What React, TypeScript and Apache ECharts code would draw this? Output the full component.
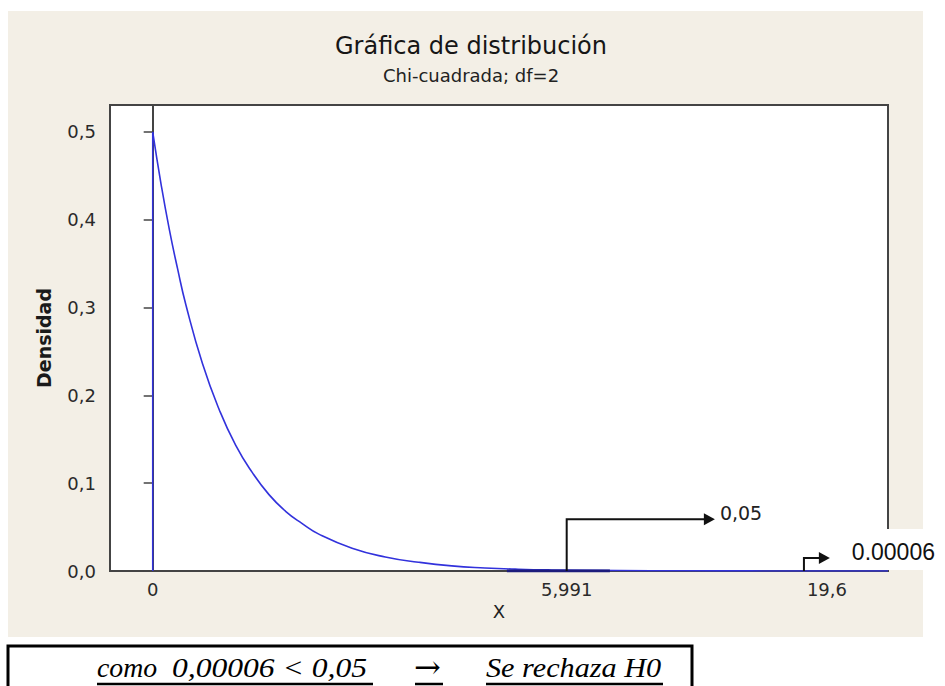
import React, { useEffect, useRef } from "react";
import * as echarts from "echarts";

// ---- texts ----
const titleText = "Gráfica de distribución";
const subtitleText = "Chi-cuadrada; df=2";
const xName = "X";
const yName = "Densidad";

// ---- axes ----
const xRange = [-1.285, 22.13];
const yRange = [0, 0.5307];
const xTickValues = [0, 12.46, 19.6];
const xTickLabels = ["0", "5,991", "19,6"];
const yTickValues = [0, 0.1, 0.2, 0.3, 0.4, 0.5];
const yTickLabels = ["0,0", "0,1", "0,2", "0,3", "0,4", "0,5"];

// ---- density curve ----
const curveX = [0, 0.25, 0.5, 0.75, 1, 1.5, 2, 2.5, 3, 3.5, 4, 4.5, 5, 6, 7, 8, 9, 10, 11, 12, 14, 16, 18, 20, 22.13];
const curveY = [0.5, 0.441, 0.389, 0.344, 0.303, 0.236, 0.184, 0.143, 0.112, 0.087, 0.068, 0.054, 0.042, 0.026, 0.016, 0.01, 0.0058, 0.0035, 0.002, 0.0012, 0.0005, 0.0002, 0.0001, 0.00002, 0];
const zeroLineX = [0, 0];
const zeroLineY = [0, 0.5];
const tailX = [10.66, 13.76];
const tailY = [0, 0];

// ---- annotations ----
const alphaArrowX = [12.46, 12.46, 16.92];
const alphaArrowY = [0, 0.059, 0.059];
const alphaLabel = "0,05";
const pArrowX = [19.6, 19.6, 20.38];
const pArrowY = [0, 0.0148, 0.0148];
const pLabel = "0.00006";
const conclusionParts = ["como", "0,00006 < 0,05", "→", "Se rechaza H0"];

const FONT = "DejaVu Sans";
const BLUE = "#3232dc";

function zip(xs: number[], ys: number[]) {
  return xs.map((x, i) => [x, ys[i]]);
}

function findIdx(values: number[], v: number) {
  for (let i = 0; i < values.length; i++) {
    if (Math.abs(values[i] - v) < 1e-6) return i;
  }
  return -1;
}

export default function App() {
  const ref = useRef<HTMLDivElement>(null);

  useEffect(() => {
    const el = ref.current!;
    const chart = echarts.init(el, null, { renderer: "svg" });

    chart.setOption({
      animation: false,
      backgroundColor: "#ffffff",
      title: [
        {
          text: titleText,
          left: 466,
          top: 29,
          textAlign: "center",
          textStyle: { fontFamily: FONT, fontSize: 24, fontWeight: "normal", color: "#161616" },
        },
        {
          text: subtitleText,
          left: 466,
          top: 61,
          textAlign: "center",
          textStyle: { fontFamily: FONT, fontSize: 18, fontWeight: "normal", color: "#222222" },
        },
      ],
      grid: {
        left: 110,
        top: 105,
        width: 778,
        height: 466,
        show: true,
        backgroundColor: "#ffffff",
        borderColor: "#444444",
        borderWidth: 2,
      },
      xAxis: {
        type: "value",
        min: xRange[0],
        max: xRange[1],
        name: xName,
        nameLocation: "middle",
        nameGap: 31,
        nameTextStyle: { fontFamily: FONT, fontSize: 18, color: "#222" },
        axisLine: { show: true, lineStyle: { color: "#444444", width: 2 } },
        axisTick: { show: false },
        splitLine: { show: false },
        axisLabel: {
          customValues: xTickValues,
          margin: 9,
          fontFamily: FONT,
          fontSize: 18,
          color: "#2a2a2a",
          formatter: (v: number) => {
            const i = findIdx(xTickValues, v);
            if (i < 0) return "";
            if (i === xTickValues.length - 1) return "{shift|" + xTickLabels[i] + "}";
            return xTickLabels[i];
          },
          rich: {
            shift: { padding: [0, 0, 0, 46], fontFamily: FONT, fontSize: 18, color: "#2a2a2a" },
          },
        },
      },
      yAxis: {
        type: "value",
        min: yRange[0],
        max: yRange[1],
        name: yName,
        nameLocation: "middle",
        nameGap: 57,
        nameRotate: 90,
        nameTextStyle: { fontFamily: FONT, fontSize: 19, fontWeight: "bold", color: "#1a1a1a" },
        axisLine: { show: true, lineStyle: { color: "#444444", width: 2 } },
        axisTick: { show: true, length: 9, customValues: yTickValues, lineStyle: { color: "#444444", width: 1.5 } },
        splitLine: { show: false },
        axisLabel: {
          customValues: yTickValues,
          margin: 14,
          fontFamily: FONT,
          fontSize: 18,
          color: "#2a2a2a",
          formatter: (v: number) => {
            const i = findIdx(yTickValues, v);
            return i < 0 ? "" : yTickLabels[i];
          },
        },
      },
      series: [
        {
          type: "line",
          name: "density",
          data: zip(curveX, curveY),
          showSymbol: false,
          symbol: "none",
          smooth: 0.5,
          lineStyle: { color: BLUE, width: 1.6 },
        },
        {
          type: "line",
          name: "zero",
          data: zip(zeroLineX, zeroLineY),
          symbol: "none",
          lineStyle: { color: BLUE, width: 1.5 },
        },
        {
          type: "line",
          name: "tail",
          data: zip(tailX, tailY),
          symbol: "none",
          lineStyle: { color: "#1c1c7c", width: 3 },
        },
      ],
    });

    const px = (x: number, y: number) => chart.convertToPixel({ gridIndex: 0 } as any, [x, y]) as number[];
    const HEAD = 11;
    const HALF = 6;

    const arrowGraphics = (xs: number[], ys: number[]) => {
      const pts = xs.map((x, i) => px(x, ys[i]));
      const tip = pts[pts.length - 1];
      const shaftEnd = [tip[0] - HEAD + 1, tip[1]];
      return {
        tip,
        els: [
          {
            type: "polyline",
            z: 100,
            shape: { points: [...pts.slice(0, pts.length - 1), shaftEnd] },
            style: { stroke: "#111", lineWidth: 2, fill: null },
          },
          {
            type: "polygon",
            z: 100,
            shape: { points: [tip, [tip[0] - HEAD, tip[1] - HALF], [tip[0] - HEAD, tip[1] + HALF]] },
            style: { fill: "#111" },
          },
        ],
      };
    };

    const a1 = arrowGraphics(alphaArrowX, alphaArrowY);
    const a2 = arrowGraphics(pArrowX, pArrowY);
    const axisY = px(0, 0)[1];

    const serifText = (text: string, x: number, scaleX: number) => ({
      type: "text",
      z: 101,
      x,
      y: 668,
      scaleX,
      style: { text, fontFamily: "Liberation Serif", fontStyle: "italic", fontSize: 27, fill: "#000", align: "left", verticalAlign: "middle" },
    });

    chart.setOption({
      graphic: [
        {
          type: "rect",
          z: -10,
          shape: { x: 8, y: 11, width: 915, height: 626 },
          style: { fill: "#f3efe6" },
        },
        ...a1.els,
        {
          type: "text",
          z: 100,
          x: a1.tip[0] + 5,
          y: a1.tip[1] - 6,
          style: { text: alphaLabel, fontFamily: FONT, fontSize: 19, fill: "#222", align: "left", verticalAlign: "middle" },
        },
        {
          type: "rect",
          z: 99,
          shape: { x: a2.tip[0] + 14, y: a2.tip[1] - 29, width: 945 - (a2.tip[0] + 14), height: axisY - 1 - (a2.tip[1] - 29) },
          style: { fill: "#ffffff" },
        },
        ...a2.els,
        {
          type: "text",
          z: 100,
          x: a2.tip[0] + 22,
          y: a2.tip[1] - 6,
          style: { text: pLabel, fontFamily: "Liberation Sans", fontSize: 23, fill: "#111", align: "left", verticalAlign: "middle" },
        },
        // conclusion box
        {
          type: "rect",
          z: 100,
          shape: { x: 8, y: 646, width: 684, height: 60 },
          style: { fill: null, stroke: "#000", lineWidth: 3 },
        },
        serifText(conclusionParts[0], 97, 1.03),
        serifText(conclusionParts[1], 172, 1.17),
        {
          type: "text",
          z: 101,
          x: 414,
          y: 667,
          style: { text: conclusionParts[2], fontFamily: "DejaVu Serif", fontSize: 32, fill: "#000", align: "left", verticalAlign: "middle" },
        },
        serifText(conclusionParts[3], 486, 1.12),
        { type: "line", z: 101, shape: { x1: 97, y1: 684, x2: 373, y2: 684 }, style: { stroke: "#000", lineWidth: 2.5 } },
        { type: "line", z: 101, shape: { x1: 415, y1: 684, x2: 443, y2: 684 }, style: { stroke: "#000", lineWidth: 2.5 } },
        { type: "line", z: 101, shape: { x1: 486, y1: 684, x2: 663, y2: 684 }, style: { stroke: "#000", lineWidth: 2.5 } },
      ],
    });

    return () => {
      chart.dispose();
    };
  }, []);

  return (
    <div
      ref={ref}
      style={{ position: "absolute", left: 0, top: 0, width: 945, height: 686 }}
    />
  );
}
